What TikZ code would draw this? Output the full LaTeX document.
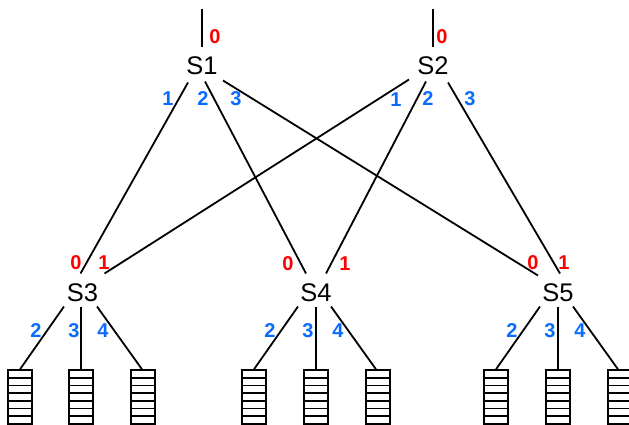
\documentclass[tikz,border=0pt]{standalone}
\usepackage{fontspec}
\setmainfont{Liberation Sans}
\usetikzlibrary{calc}
\definecolor{portred}{HTML}{FF0000}
\definecolor{portblue}{HTML}{0A6CFF}
\tikzset{
  switchnode/.style={inner sep=0pt,outer sep=0pt,minimum width=32pt,minimum height=30pt,font=\fontsize{25.5}{25.5}\selectfont,text=black},
  link/.style={line width=1.8pt,black},
  queue/.style={draw,line width=1.7pt,inner sep=0pt,outer sep=0pt,minimum width=24pt,minimum height=53.4pt,
    path picture={\foreach \i in {1,...,6}{\draw[line width=1.7pt] ($(path picture bounding box.north west)!\i/7!(path picture bounding box.south west)$) -- ($(path picture bounding box.north east)!\i/7!(path picture bounding box.south east)$);}}},
  red port/.style={inner sep=0pt,text=portred,font=\fontsize{20}{20}\selectfont\bfseries},
  blue port/.style={inner sep=0pt,text=portblue,font=\fontsize{20}{20}\selectfont\bfseries}
}
\begin{document}
\begin{tikzpicture}[x=1pt,y=-1pt]
\useasboundingbox (0,0) rectangle (629,425);
\node[switchnode] (s1) at (202,65.5) {S1};
\node[switchnode] (s2) at (433,65.5) {S2};
\node[switchnode] (s3) at (82.5,292.5) {S3};
\node[switchnode] (s4) at (316,292.5) {S4};
\node[switchnode] (s5) at (558,292.5) {S5};
\coordinate (t1) at (202,9);
\coordinate (t2) at (433,9);
\foreach \n/\x in {a1/20,a2/81,a3/143,b1/254,b2/316,b3/378,c1/496,c2/558,c3/620}
  \node[queue] (\n) at (\x,397) {};
% uplinks
\draw[link] (t1) -- ([shift={(0,-3)}]s1.north);
\draw[link] (t2) -- ([shift={(0,-3)}]s2.north);
% spine to leaf
\draw[link] ([shift={(-14,2)}]s1.south) -- ([shift={(-2,-4)}]s3.north);
\draw[link] ([shift={(3,1)}]s1.south) -- ([shift={(-10,-4)}]s4.north);
\draw[link] ([shift={(21,0)}]s1.south) -- ([shift={(-20,-2)}]s5.north);
\draw[link] ([shift={(-24,-1)}]s2.south) -- ([shift={(22,-4)}]s3.north);
\draw[link] ([shift={(-7,1)}]s2.south) -- ([shift={(10,-4)}]s4.north);
\draw[link] ([shift={(15,2)}]s2.south) -- ([shift={(2,-4)}]s5.north);
% leaf to queue
\draw[link] ([shift={(-18.5,-1)}]s3.south) -- ([shift={(0,-1)}]a1.north);
\draw[link] ([shift={(-1.5,-1)}]s3.south) -- ([shift={(0,-1)}]a2.north);
\draw[link] ([shift={(14.5,-1)}]s3.south) -- ([shift={(-1,-1)}]a3.north);
\draw[link] ([shift={(-18,-1)}]s4.south) -- ([shift={(0,-1)}]b1.north);
\draw[link] (s4.south) ++(0,-1) -- ([shift={(0,-1)}]b2.north);
\draw[link] ([shift={(15,-1)}]s4.south) -- ([shift={(-2,-1)}]b3.north);
\draw[link] ([shift={(-18,-1)}]s5.south) -- ([shift={(0,-1)}]c1.north);
\draw[link] (s5.south) ++(0,-1) -- ([shift={(0,-1)}]c2.north);
\draw[link] ([shift={(15,-1)}]s5.south) -- ([shift={(-2,-1)}]c3.north);
% port labels
\foreach \n/\x/\y/\t in {r1/215/37/0,r2/442/37/0,r3/76/263/0,r4/104/263/1,r5/288/264/0,r6/345/264/1,r7/533/263/0,r8/564/263/1}
  \node[red port] (\n) at (\x,\y) {\t};
\foreach \n/\x/\y/\t in {u1/168/99/1,u2/203/99/2,u3/236/99/3,u4/396/100/1,u5/428/99/2,u6/470/99/3,
  u7/36/331/2,u8/74/331/3,u9/103/331/4,u10/270/331/2,u11/308/331/3,u12/338/331/4,u13/512/331/2,u14/550/331/3,u15/580/331/4}
  \node[blue port] (\n) at (\x,\y) {\t};
\end{tikzpicture}
\end{document}
